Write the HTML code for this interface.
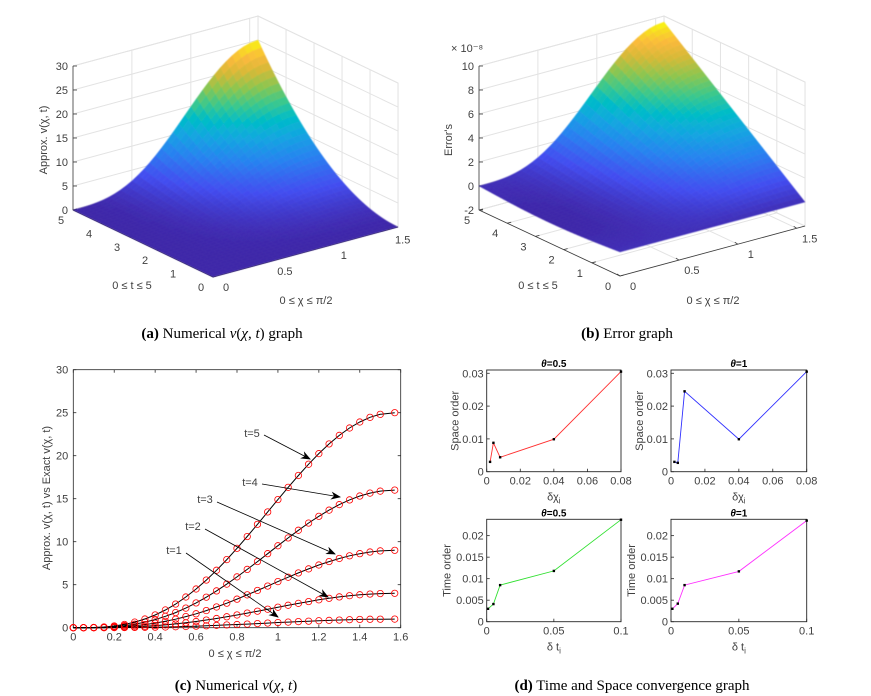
<!DOCTYPE html>
<html><head><meta charset="utf-8"><style>
html,body{margin:0;padding:0;background:#fff;}
svg{display:block;}
text{font-family:"Liberation Sans",sans-serif;}
.tk{font-size:11px;fill:#404040;}
.cap{font-family:"Liberation Serif",serif;font-size:15px;fill:#000;}
</style></head><body>
<svg id="fig" width="871" height="696" viewBox="0 0 871 696" xmlns="http://www.w3.org/2000/svg">
<defs><filter id="sm" x="-5%" y="-5%" width="110%" height="110%"><feGaussianBlur stdDeviation="0.5"/></filter></defs>
<g id="pa"></g>
<g id="pb"></g>
<g id="pc"></g>
<g id="pd"></g>
<text class="cap" x="222" y="338" text-anchor="middle"><tspan font-weight="bold">(a)</tspan> Numerical <tspan font-style="italic">v</tspan>(<tspan font-style="italic">χ</tspan>, <tspan font-style="italic">t</tspan>) graph</text>
<text class="cap" x="627" y="338" text-anchor="middle"><tspan font-weight="bold">(b)</tspan> Error graph</text>
<text class="cap" x="236" y="690" text-anchor="middle"><tspan font-weight="bold">(c)</tspan> Numerical <tspan font-style="italic">v</tspan>(<tspan font-style="italic">χ</tspan>, <tspan font-style="italic">t</tspan>)</text>
<text class="cap" x="632" y="690" text-anchor="middle"><tspan font-weight="bold">(d)</tspan> Time and Space convergence graph</text>
</svg>
<script>
// ---- Panel (c) data ----
const xVals = [0,0.05,0.1,0.15,0.2,0.25,0.3,0.35,0.4,0.45,0.5,0.55,0.6,0.65,0.7,0.75,0.8,0.85,0.9,0.95,1.0,1.05,1.1,1.15,1.2,1.25,1.3,1.35,1.4,1.45,1.5,1.5708];
const vT1 = [0,0,0,0,0.01,0.02,0.03,0.04,0.06,0.08,0.11,0.14,0.18,0.22,0.27,0.32,0.37,0.42,0.48,0.54,0.60,0.65,0.71,0.76,0.81,0.85,0.89,0.93,0.96,0.98,0.99,1.00];
const vT2 = [0,0,0,0.01,0.03,0.06,0.10,0.16,0.24,0.33,0.44,0.57,0.72,0.89,1.07,1.27,1.48,1.70,1.92,2.15,2.38,2.61,2.83,3.04,3.24,3.42,3.58,3.72,3.83,3.91,3.97,4.00];
const vT3 = [0,0,0.01,0.03,0.07,0.14,0.23,0.36,0.53,0.74,0.99,1.29,1.62,1.99,2.41,2.85,3.32,3.82,4.33,4.84,5.36,5.87,6.37,6.84,7.29,7.69,8.05,8.36,8.61,8.80,8.93,9.00];
const vT4 = [0,0,0.02,0.05,0.13,0.24,0.41,0.65,0.94,1.32,1.76,2.28,2.88,3.55,4.28,5.07,5.91,6.78,7.69,8.61,9.53,10.44,11.33,12.17,12.95,13.67,14.31,14.86,15.31,15.65,15.88,16.00];
const vT5 = [0,0,0.02,0.08,0.20,0.38,0.65,1.01,1.48,2.06,2.75,3.57,4.50,5.54,6.68,7.92,9.23,10.60,12.02,13.46,14.90,16.32,17.70,19.01,20.24,21.37,22.36,23.22,23.92,24.46,24.81,25.00];
const cXTicks = [0,0.2,0.4,0.6,0.8,1,1.2,1.4,1.6];
const cYTicks = [0,5,10,15,20,25,30];
// ---- Panel (a)/(b) data ----
const tGrid = [0,0.125,0.25,0.375,0.5,0.625,0.75,0.875,1,1.125,1.25,1.375,1.5,1.625,1.75,1.875,2,2.125,2.25,2.375,2.5,2.625,2.75,2.875,3,3.125,3.25,3.375,3.5,3.625,3.75,3.875,4,4.125,4.25,4.375,4.5,4.625,4.75,4.875,5];
const errPeak = 9.5; // x1e-8 at t=5, x=pi/2
const aZTicks = [0,5,10,15,20,25,30];
const bZTicks = [-2,0,2,4,6,8,10];
const tTicks = [0,1,2,3,4,5];
const xTicks3 = [0,0.5,1,1.5];
// ---- Panel (d) data ----
const dxSpace = [0.002,0.004,0.008,0.04,0.08];
const spaceOrd05 = [0.0030,0.0088,0.0044,0.0099,0.0305];
const spaceOrd1 = [0.0030,0.0027,0.0245,0.0099,0.0305];
const dtTime = [0.001,0.005,0.01,0.05,0.1];
const timeOrd05 = [0.0030,0.0041,0.0085,0.0118,0.0237];
const timeOrd1 = [0.0030,0.0042,0.0085,0.0117,0.0235];
const spaceXTicks = [0,0.02,0.04,0.06,0.08];
const spaceYTicks = [0,0.01,0.02,0.03];
const timeXTicks = [0,0.05,0.1];
const timeYTicks = [0,0.005,0.01,0.015,0.02];

const NS = "http://www.w3.org/2000/svg";
function mk(parent, tag, attrs, txt){
  const e = document.createElementNS(NS, tag);
  for (const k in attrs) e.setAttribute(k, attrs[k]);
  if (txt !== undefined) e.textContent = txt;
  parent.appendChild(e);
  return e;
}
function fmt(v){ return String(+v.toFixed(4)); }

const parStops = [[0,62,38,168],[0.15,67,77,240],[0.3,40,130,240],[0.42,20,165,225],[0.52,0,188,200],[0.62,60,200,140],[0.72,140,198,80],[0.82,215,185,55],[0.9,250,185,60],[0.96,248,220,35],[1,249,251,14]];
function parula(u){
  u = Math.max(0, Math.min(1, u));
  for (let i=1;i<parStops.length;i++){
    if (u <= parStops[i][0]){
      const a = parStops[i-1], b = parStops[i], f = (u-a[0])/(b[0]-a[0]);
      return `rgb(${Math.round(a[1]+(b[1]-a[1])*f)},${Math.round(a[2]+(b[2]-a[2])*f)},${Math.round(a[3]+(b[3]-a[3])*f)})`;
    }
  }
  return "rgb(249,251,14)";
}

function surface3D(g, P, zfun, zTicks){
  const pr = (x,t,z)=>[P.ox + x*P.xx + t*P.tx, P.oy + x*P.xy + t*P.ty + z*P.zs];
  const X = 1.5708, T = 5;
  const grid = "#e3e3e3";
  mk(g,"polygon",{points:[pr(0,T,P.zmin),pr(X,T,P.zmin),pr(X,T,P.zmax),pr(0,T,P.zmax)].map(p=>p.join(",")).join(" "),fill:"#fff",stroke:grid});
  mk(g,"polygon",{points:[pr(X,0,P.zmin),pr(X,T,P.zmin),pr(X,T,P.zmax),pr(X,0,P.zmax)].map(p=>p.join(",")).join(" "),fill:"#fff",stroke:grid});
  zTicks.forEach(z=>{
    let a=pr(0,T,z),b=pr(X,T,z),c=pr(X,0,z);
    mk(g,"polyline",{points:[a,b,c].map(p=>p.join(",")).join(" "),fill:"none",stroke:grid});
  });
  xTicks3.forEach(x=>{ let a=pr(x,T,P.zmin),b=pr(x,T,P.zmax),c=pr(x,0,P.zmin);
    mk(g,"polyline",{points:[c,a,b].map(p=>p.join(",")).join(" "),fill:"none",stroke:grid}); });
  tTicks.forEach(t=>{ let a=pr(X,t,P.zmin),b=pr(X,t,P.zmax),c=pr(0,t,P.zmin);
    mk(g,"polyline",{points:[c,a,b].map(p=>p.join(",")).join(" "),fill:"none",stroke:grid}); });
  const ax = "#3a3a3a";
  let p0=pr(0,T,P.zmin), p1=pr(0,T,P.zmax);
  mk(g,"line",{x1:p0[0],y1:p0[1],x2:p1[0],y2:p1[1],stroke:ax,"stroke-width":0.8});
  let q0=pr(0,0,P.zmin);
  mk(g,"line",{x1:p0[0],y1:p0[1],x2:q0[0],y2:q0[1],stroke:ax,"stroke-width":0.8});
  let r0=pr(X,0,P.zmin);
  mk(g,"line",{x1:q0[0],y1:q0[1],x2:r0[0],y2:r0[1],stroke:ax,"stroke-width":0.8});
  zTicks.forEach(z=>{ const p=pr(0,T,z);
    mk(g,"line",{x1:p[0],y1:p[1],x2:p[0]+4,y2:p[1],stroke:ax,"stroke-width":0.8});
    const el = mk(g,"text",{class:"tk",x:p[0]-5,y:p[1]+4,"text-anchor":"end"},String(z));
    
    
  });
  tTicks.forEach(t=>{ const p=pr(0,t,P.zmin);
    mk(g,"line",{x1:p[0],y1:p[1],x2:p[0]+4,y2:p[1]-1,stroke:ax,"stroke-width":0.8});
    const el = mk(g,"text",{class:"tk",x:p[0]-12,y:p[1]+14,"text-anchor":"middle"},String(t));
    
    
  });
  xTicks3.forEach(x=>{ const p=pr(x,0,P.zmin);
    mk(g,"line",{x1:p[0],y1:p[1],x2:p[0]-3,y2:p[1]-2,stroke:ax,"stroke-width":0.8});
    const el = mk(g,"text",{class:"tk",x:p[0]+13,y:p[1]+14,"text-anchor":"middle"},String(x));
    
    
  });
  const Z = tGrid.map(t=>xVals.map((x,i)=>zfun(t,i)));
  let zmin=Infinity,zmax=-Infinity; Z.forEach(r=>r.forEach(v=>{zmin=Math.min(zmin,v);zmax=Math.max(zmax,v);}));
  const quads=[];
  for (let j=0;j<tGrid.length-1;j++) for (let i=0;i<xVals.length-1;i++){
    const pts=[[i,j],[i+1,j],[i+1,j+1],[i,j+1]];
    const zav=(Z[j][i]+Z[j][i+1]+Z[j+1][i]+Z[j+1][i+1])/4;
    const xm=(xVals[i]+xVals[i+1])/2, tm=(tGrid[j]+tGrid[j+1])/2;
    quads.push({pts, zav, depth: xm*P.xy + tm*P.ty});
  }
  quads.sort((a,b)=>a.depth-b.depth);
  const sg = mk(g,"g",{filter:"url(#sm)"});
  
  
  quads.forEach(q=>{
    const c = parula((q.zav-zmin)/(zmax-zmin));
    const poly = q.pts.map(([i,j])=>pr(xVals[i],tGrid[j],Z[j][i]).map(v=>v.toFixed(2)).join(",")).join(" ");
    mk(sg,"polygon",{points:poly,fill:c,stroke:c,"stroke-width":0.35});
  });
}

const gA = document.getElementById("pa");
surface3D(gA,{ox:213,oy:277,xx:117.8,xy:-31.8,tx:-28,ty:-13.4,zs:-4.8,zmin:0,zmax:30},(t,i)=>t*t*vT5[i]/25,aZTicks);
mk(gA,"text",{class:"tk",x:132,y:289,"text-anchor":"middle",},"0 ≤ t ≤ 5");
mk(gA,"text",{class:"tk",x:306,y:304,"text-anchor":"middle",},"0 ≤ χ ≤ π/2");
mk(gA,"text",{class:"tk",x:0,y:0,"text-anchor":"middle",transform:"translate(47,140) rotate(-90)",},"Approx. v(χ, t)");

const gB = document.getElementById("pb");
surface3D(gB,{ox:620,oy:252,xx:117.8,xy:-31.8,tx:-28.2,ty:-13.2,zs:-12,zmin:-2,zmax:10},(t,i)=>errPeak*(t/5)*vT5[i]/25 - 0.3*Math.sin(Math.PI*t/5)*(1-vT5[i]/25),bZTicks);
mk(gB,"text",{class:"tk","font-size":"9",x:451,y:52,},"× 10⁻⁸");
mk(gB,"text",{class:"tk",x:538,y:289,"text-anchor":"middle",},"0 ≤ t ≤ 5");
mk(gB,"text",{class:"tk",x:713,y:304,"text-anchor":"middle",},"0 ≤ χ ≤ π/2");
mk(gB,"text",{class:"tk",x:0,y:0,"text-anchor":"middle",transform:"translate(452,140) rotate(-90)",},"Error's");

const gC = document.getElementById("pc");
const C = {l:73.3,r:400.7,t:369.7,b:627.7,xmax:1.6,ymax:30};
const cx = v=>C.l+(v/C.xmax)*(C.r-C.l), cy = v=>C.b-(v/C.ymax)*(C.b-C.t);
mk(gC,"rect",{x:C.l,y:C.t,width:C.r-C.l,height:C.b-C.t,fill:"#fff",stroke:"#262626","stroke-width":0.8,});
cXTicks.forEach(v=>{
  mk(gC,"line",{x1:cx(v),y1:C.b,x2:cx(v),y2:C.b-3,stroke:"#262626","stroke-width":0.8});
  mk(gC,"line",{x1:cx(v),y1:C.t,x2:cx(v),y2:C.t+3,stroke:"#262626","stroke-width":0.8});
  const el=mk(gC,"text",{class:"tk",x:cx(v),y:C.b+13,"text-anchor":"middle"},String(v));
  
  
});
cYTicks.forEach(v=>{
  mk(gC,"line",{x1:C.l,y1:cy(v),x2:C.l+3,y2:cy(v),stroke:"#262626","stroke-width":0.8});
  mk(gC,"line",{x1:C.r,y1:cy(v),x2:C.r-3,y2:cy(v),stroke:"#262626","stroke-width":0.8});
  const el=mk(gC,"text",{class:"tk",x:C.l-5,y:cy(v)+4,"text-anchor":"end"},String(v));
  
  
});
const cSeries = [vT1,vT2,vT3,vT4,vT5];
cSeries.forEach((s,k)=>{
  const gs = mk(gC,"g",{});
  
  
  mk(gs,"polyline",{points:s.map((v,i)=>cx(xVals[i]).toFixed(1)+","+cy(v).toFixed(1)).join(" "),fill:"none",stroke:"#000","stroke-width":1});
  s.forEach((v,i)=>{ const c=mk(gs,"circle",{cx:cx(xVals[i]),cy:cy(v),r:3.2,fill:"none",stroke:"#ff0000","stroke-width":0.8});
    
     });
});
mk(gC,"defs",{}).innerHTML='<marker id="arr" markerWidth="10" markerHeight="8" refX="9" refY="4" orient="auto" markerUnits="userSpaceOnUse"><path d="M0,0 L10,4 L0,8 L3,4 Z" fill="#000"/></marker>';
const annos = [["t=5",252,437,260,435,310,459],["t=4",250,486,258,484,340,497],["t=3",205,503,213,502,335,554],["t=2",193,530,201,529,328,597],["t=1",174,554,182,553,278,617]];
annos.forEach(a=>{
  const t=mk(gC,"text",{class:"tk",x:a[1],y:a[2],"text-anchor":"middle"},a[0]);
  
  
  mk(gC,"line",{x1:a[3]+4,y1:a[4],x2:a[5],y2:a[6],stroke:"#000","stroke-width":0.8,"marker-end":"url(#arr)"});
});
mk(gC,"text",{class:"tk","font-size":"12",x:235,y:657,"text-anchor":"middle",},"0 ≤ χ ≤ π/2");
mk(gC,"text",{class:"tk","font-size":"12",x:0,y:0,"text-anchor":"middle",transform:"translate(50,498) rotate(-90)",},"Approx. v(χ, t) vs Exact v(χ, t)");

const gD = document.getElementById("pd");
function smallPlot(B, xs, ys, xTk, yTk, color, title, ylab, xlab, yoff, name){
  const g = mk(gD,"g",{});
  
  
  const px=v=>B.l+(v/B.xmax)*(B.r-B.l), py=v=>B.b-(v/B.ymax)*(B.b-B.t);
  mk(g,"rect",{x:B.l,y:B.t,width:B.r-B.l,height:B.b-B.t,fill:"#fff",stroke:"#262626","stroke-width":0.9});
  xTk.forEach(v=>{ mk(g,"line",{x1:px(v),y1:B.b,x2:px(v),y2:B.b-3,stroke:"#262626","stroke-width":0.8});
    const el=mk(g,"text",{class:"tk",x:px(v),y:B.b+13,"text-anchor":"middle"},fmt(v));
    
     });
  yTk.forEach(v=>{ mk(g,"line",{x1:B.l,y1:py(v),x2:B.l+3,y2:py(v),stroke:"#262626","stroke-width":0.8});
    const el=mk(g,"text",{class:"tk",x:B.l-3,y:py(v)+4,"text-anchor":"end"},fmt(v));
    
     });
  mk(g,"polyline",{points:xs.map((x,i)=>px(x).toFixed(1)+","+py(ys[i]).toFixed(1)).join(" "),fill:"none",stroke:color,"stroke-width":0.9});
  xs.forEach((x,i)=>{ const r=mk(g,"rect",{x:px(x)-1.2,y:py(ys[i])-1.2,width:2.4,height:2.4,fill:"#000"});
    
     });
  const tt=mk(g,"text",{x:(B.l+B.r)/2,y:B.t-3,"text-anchor":"middle","font-size":"10","font-weight":"bold",fill:"#000"});
  tt.innerHTML='<tspan font-style="italic">θ</tspan>='+title;
  
  
  const yl=mk(g,"text",{class:"tk",x:0,y:0,"text-anchor":"middle",transform:`translate(${B.l-yoff},${(B.t+B.b)/2}) rotate(-90)`},ylab);
  
  
  const xl=mk(g,"text",{class:"tk","font-size":"12",x:(B.l+B.r)/2,y:B.b+29,"text-anchor":"middle","font-family":"Liberation Serif, serif"});
  xl.innerHTML=xlab+'<tspan font-size="8" dy="3">i</tspan>';
  
  
}
smallPlot({l:486.7,r:621,t:370,b:471.7,xmax:0.08,ymax:0.031},dxSpace,spaceOrd05,spaceXTicks,spaceYTicks,"#ff3030","0.5","Space order","δχ",28,"space-order-theta-0.5");
smallPlot({l:671,r:806.7,t:370,b:471.7,xmax:0.08,ymax:0.031},dxSpace,spaceOrd1,spaceXTicks,spaceYTicks,"#3030ff","1","Space order","δχ",28,"space-order-theta-1");
smallPlot({l:486.7,r:621,t:519.3,b:621.7,xmax:0.1,ymax:0.0238},dtTime,timeOrd05,timeXTicks,timeYTicks,"#30e030","0.5","Time order","δ t",36,"time-order-theta-0.5");
smallPlot({l:671,r:806.7,t:519.3,b:621.7,xmax:0.1,ymax:0.0238},dtTime,timeOrd1,timeXTicks,timeYTicks,"#ff30ff","1","Time order","δ t",36,"time-order-theta-1");
</script>
</body></html>
